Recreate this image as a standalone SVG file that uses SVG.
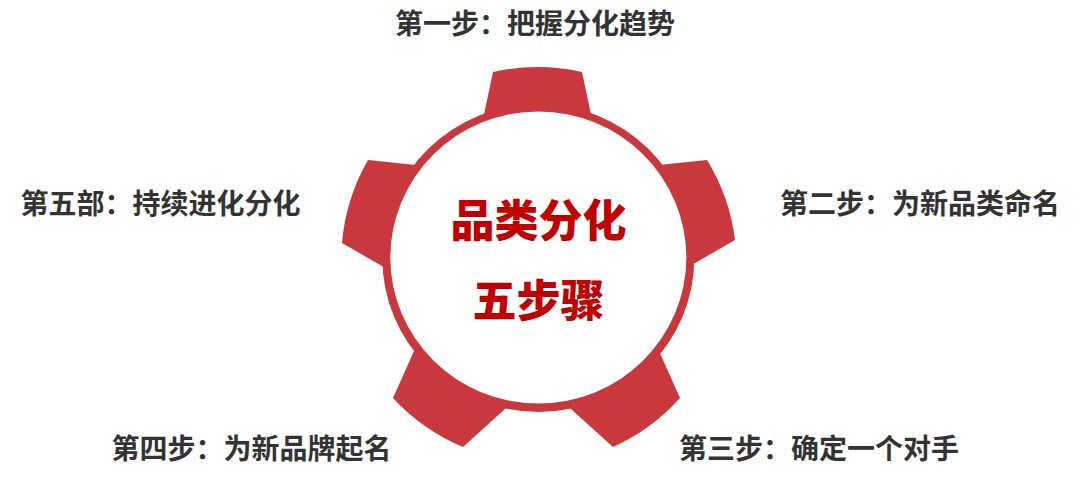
<svg xmlns="http://www.w3.org/2000/svg" width="1080" height="483" viewBox="0 0 1080 483">
<style>
.gear{fill:#C8383C;}
.hole{fill:#FFFFFF;}
.lbl{font-family:"Noto Sans CJK SC","Noto Sans",sans-serif;font-weight:700;font-size:28px;fill:#333333;text-anchor:middle;}
.ctr{font-family:"Noto Sans CJK SC","Noto Sans",sans-serif;font-weight:900;font-size:44px;fill:#C00000;text-anchor:middle;}
</style>
<rect width="1080" height="483" fill="#FFFFFF"/>
<g id="gear">
<ellipse class="gear" cx="538.3" cy="258" rx="156" ry="154"/>
<path class="gear" d="M479,138 L493,72 A200,200 0 0 1 582,72 L596,138 Z"/>
<path class="gear" d="M639.9,167.1 L707,160 A200,200 0 0 1 735,240 L676.5,273.7 Z"/>
<path class="gear" d="M652.5,336.4 L680,398 A200,200 0 0 1 613,447 L562.9,401.8 Z"/>
<path class="gear" d="M513.1,401.8 L463,447 A200,200 0 0 1 393,398 L420.5,336.4 Z"/>
<path class="gear" d="M400.5,276.7 L342,243 A200,200 0 0 1 368,160 L435.1,167.1 Z"/>
<ellipse class="hole" cx="538.3" cy="257.5" rx="148" ry="146"/>
<text class="ctr" x="538.5" y="237">品类分化</text>
<text class="ctr" x="538.5" y="317">五步骤</text>
</g>
<g id="step1"><text class="lbl" x="535" y="34">第一步：把握分化趋势</text></g>
<g id="step2"><text class="lbl" x="920" y="214">第二步：为新品类命名</text></g>
<g id="step3"><text class="lbl" x="819" y="459">第三步：确定一个对手</text></g>
<g id="step4"><text class="lbl" x="251.5" y="459">第四步：为新品牌起名</text></g>
<g id="step5"><text class="lbl" x="160.5" y="214">第五部：持续进化分化</text></g>
<g id="connectors"/>
</svg>
